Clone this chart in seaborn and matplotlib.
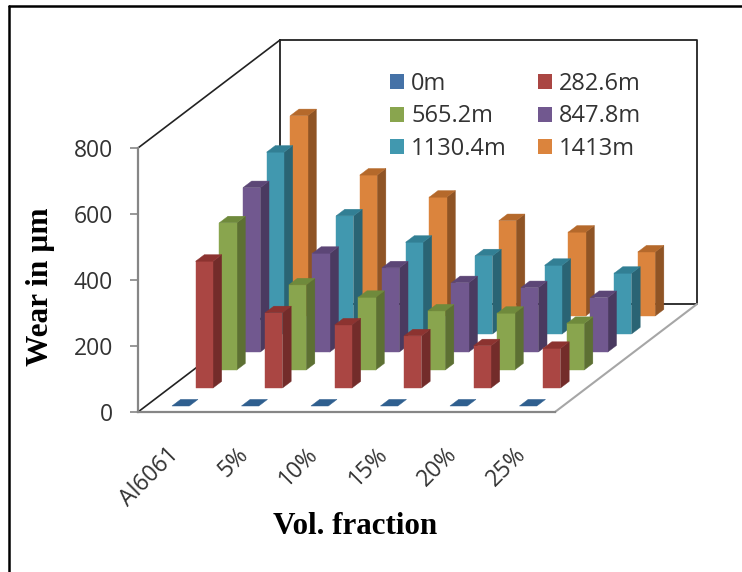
import numpy as np
import matplotlib
matplotlib.use('Agg')
import matplotlib.pyplot as plt
from matplotlib.lines import Line2D
from matplotlib.patches import Patch
import seaborn as sns

# Values
categories = ['Al6061', '5%', '10%', '15%', '20%', '25%']
series_names = ['0m', '282.6m', '565.2m', '847.8m', '1130.4m', '1413m']
wear_0 = [0, 0, 0, 0, 0, 0]
wear_282 = [384, 228, 191, 158, 128, 120]
wear_565 = [446, 258, 220, 179, 172, 141]
wear_848 = [498, 299, 255, 210, 195, 165]
wear_1130 = [551, 358, 278, 237, 208, 184]
wear_1413 = [607, 427, 360, 289, 254, 194]
y_ticks = [0, 200, 400, 600, 800]

front_colors = ['#4572A7', '#AA4643', '#89A54E', '#71588F', '#4198AF', '#DB843D']
top_colors = ['#2F5F8F', '#8C3330', '#6F8A3C', '#5C4676', '#327F94', '#B5692B']
side_colors = ['#2F4F75', '#732C2A', '#5D7033', '#4A3A60', '#2A6474', '#8F5425']

sns.set_theme(style='white')
plt.rcParams['font.family'] = ['Open Sans', 'DejaVu Sans']

all_series = [wear_0, wear_282, wear_565, wear_848, wear_1130, wear_1413]

fig = plt.figure(figsize=(7.42, 5.72), dpi=100)
ax = fig.add_axes([138 / 742, 160 / 572, 559 / 742, 372 / 572])
ax.set_xlim(0, 559 / 69.5)
ax.set_ylim(0, 372 / 0.33)
ax.patch.set_alpha(0)

# oblique projection: one series step moves the point right and up
step_x = 23.67 / 69.5
step_y = 18 / 0.33
n_depth = len(series_names)


def proj(x, depth, wear):
    return x + step_x * depth, wear + step_y * depth


def face(points, color, z):
    xs, ys = zip(*[proj(*p) for p in points])
    ax.fill(xs, ys, color=color, lw=0.3, zorder=z, clip_on=False)


def walls():
    n = len(categories)
    corners = [(0, n_depth, 800), (n, n_depth, 800), (n, n_depth, 0), (0, n_depth, 0), (0, n_depth, 800)]
    xs, ys = zip(*[proj(*p) for p in corners])
    ax.plot(xs, ys, color='#222222', lw=1.3, zorder=1, clip_on=False)
    xs, ys = zip(*[proj(*p) for p in [(0, 0, 800), (0, n_depth, 800)]])
    ax.plot(xs, ys, color='#222222', lw=1.2, zorder=1, clip_on=False)
    xs, ys = zip(*[proj(*p) for p in [(0, 0, 0), (0, n_depth, 0)]])
    ax.plot(xs, ys, color='#222222', lw=1.2, zorder=1, clip_on=False)
    xs, ys = zip(*[proj(*p) for p in [(n, 0, 0), (n, n_depth, 0)]])
    ax.plot(xs, ys, color='#A6A6A6', lw=1.5, zorder=1, clip_on=False)


walls()

bar_w = 0.25
d0, d1 = 0.333, 0.70
z = 2
# back row first so the nearer rows cover it
for s in range(n_depth - 1, -1, -1):
    for c, val in enumerate(all_series[s]):
        x0 = c + 0.5 - bar_w / 2
        x1 = c + 0.5 + bar_w / 2
        a, b = s + d0, s + d1
        if val > 0:
            face([(x1, a, 0), (x1, b, 0), (x1, b, val), (x1, a, val)], side_colors[s], z)
            face([(x0, a, 0), (x1, a, 0), (x1, a, val), (x0, a, val)], front_colors[s], z)
        face([(x0, a, val), (x1, a, val), (x1, b, val), (x0, b, val)], top_colors[s], z)
        z += 1

sns.despine(ax=ax)
for side in ['left', 'bottom']:
    ax.spines[side].set_color('#868686')
    ax.spines[side].set_linewidth(1.6)
    ax.spines[side].set_zorder(1.5)
ax.spines['left'].set_bounds(0, 800)
ax.spines['bottom'].set_bounds(0, len(categories))

ax.set_yticks(y_ticks)
ax.tick_params(axis='y', left=True, length=6, width=1.2, color='#868686', pad=12,
               labelsize=16.5, labelcolor='#333333')
ax.set_xticks(np.arange(len(categories)) + 0.54)
ax.set_xticklabels(categories, rotation=45, ha='right', va='center', rotation_mode='anchor')
ax.tick_params(axis='x', bottom=False, pad=22, labelsize=16.5, labelcolor='#333333')

# legend fills by column, the picture reads by row
order = [0, 2, 4, 1, 3, 5]
handles = [Patch(facecolor=front_colors[i], edgecolor='none', label=series_names[i]) for i in order]
leg = ax.legend(handles=handles, ncols=2, frameon=False, fontsize=17, loc='upper left',
                bbox_to_anchor=(0.451, 0.914), handlelength=0.59, handleheight=0.59,
                handletextpad=0.3, labelspacing=0.36, columnspacing=1.32, borderpad=0, borderaxespad=0,
                labelcolor='#333333')

fig.text(41 / 742, 1 - 287 / 572, 'Wear in µm', rotation=90, ha='center', va='center',
         family='Liberation Serif', weight='bold', fontsize=22.5, color='black')
fig.text(355 / 742, 1 - 526 / 572, 'Vol. fraction', ha='center', va='center',
         family='Liberation Serif', weight='bold', fontsize=22.3, color='black')

# outer border of the screenshot
fig.add_artist(Line2D([8.5 / 742, 1], [1 - 6 / 572, 1 - 6 / 572], color='black', lw=1.8))
fig.add_artist(Line2D([8.5 / 742, 8.5 / 742], [0, 1 - 6 / 572], color='black', lw=1.8))

plt.savefig('out.png', dpi=100)
plt.close()
